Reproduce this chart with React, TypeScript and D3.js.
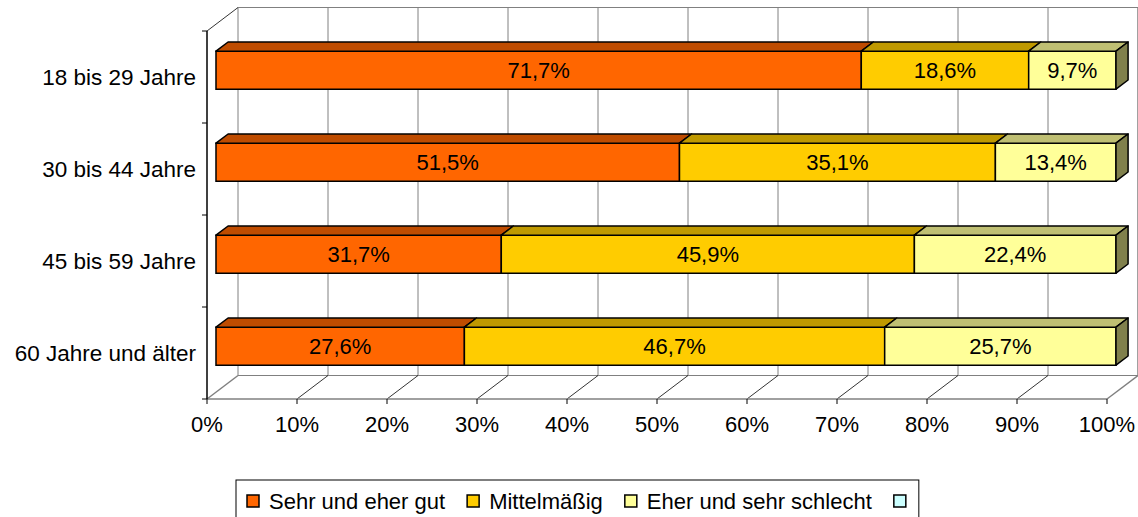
import React from 'react'
import { scaleLinear, scaleBand, range } from 'd3'

const categories = ['18 bis 29 Jahre', '30 bis 44 Jahre', '45 bis 59 Jahre', '60 Jahre und älter']
const seriesNames = ['Sehr und eher gut', 'Mittelmäßig', 'Eher und sehr schlecht', '']
const sehrGut = [71.7, 51.5, 31.7, 27.6]
const mittel = [18.6, 35.1, 45.9, 46.7]
const schlecht = [9.7, 13.4, 22.4, 25.7]
const xTicks = [0, 10, 20, 30, 40, 50, 60, 70, 80, 90, 100]

const frontColors = ['#FF6600', '#FFCC00', '#FFFF99', '#CCFFFF']
const topColors = ['#BF4C00', '#BF9900', '#BFBF73', '#99BFBF']
const sideColors = ['#803300', '#806600', '#80804C', '#668080']

const FONT = '"Liberation Sans", Arial, sans-serif'
const W = 1138
const H = 517
// depth of the 3d box
const DX = 31
const DY = 23.5
const D_FRONT = 0.29
const D_BACK = 0.68
const BAR_H = 38
const LEG_FS = 22

const measure = (t: string, size: number) => {
  const c = document.createElement('canvas').getContext('2d')
  if (!c) return t.length * size * 0.55
  c.font = `${size}px "Liberation Sans", Arial`
  return c.measureText(t).width
}

const App = () => {
  const x = scaleLinear().domain([0, 100]).range([207, 1107])
  const y = scaleBand().domain(categories).range([31, 399]).padding(0)
  const p = (v: number, yy: number, d: number) => [x(v) + d * DX, yy - d * DY]
  const poly = (pts: number[][]) => pts.map(q => q.join(',')).join(' ')

  const series = [sehrGut, mittel, schlecht]
  const floorY = 399
  const wallTop = 31 - DY

  const legendItems: { name: string; color: string; x: number }[] = []
  let lx = 247
  seriesNames.forEach((n, i) => {
    legendItems.push({ name: n, color: frontColors[i], x: lx })
    lx += 13 + (n ? 9 + measure(n, LEG_FS) + 22 : 12)
  })

  return (
    <svg width={W} height={H} style={{ position: 'absolute', left: 0, top: 0 }} fontFamily={FONT}>
      {/* back wall */}
      <line x1={x(0) + DX} x2={x(100) + DX} y1={wallTop} y2={wallTop} stroke="#808080" />
      <line x1={x(100) + DX} x2={x(100) + DX} y1={wallTop} y2={floorY - DY} stroke="#808080" />
      {xTicks.map(t => (
        <line key={'g' + t} x1={x(t) + DX} x2={x(t) + DX} y1={wallTop} y2={floorY - DY} stroke="#808080" />
      ))}
      {/* floor */}
      <line x1={x(0) + DX} x2={x(100) + DX} y1={floorY - DY} y2={floorY - DY} stroke="#808080" />
      {xTicks.map(t => (
        <line key={'f' + t} x1={x(t)} y1={floorY} x2={x(t) + DX} y2={floorY - DY}
          stroke={t === 0 || t === 100 ? '#808080' : '#000'} strokeWidth={t === 0 || t === 100 ? 1.5 : 0.8} />
      ))}
      <line x1={x(0)} x2={x(100)} y1={floorY} y2={floorY} stroke="#808080" strokeWidth={1.5} />
      {/* left wall */}
      <line x1={x(0)} y1={31} x2={x(0) + DX} y2={wallTop} stroke="#000" strokeWidth={0.8} />
      <line x1={x(0)} x2={x(0)} y1={31} y2={floorY} stroke="#000" strokeWidth={1.5} />
      {range(categories.length + 1).map(i => (
        <line key={'yt' + i} x1={x(0) - 5} x2={x(0)} y1={31 + i * y.step()} y2={31 + i * y.step()} stroke="#000" />
      ))}
      {xTicks.map(t => (
        <g key={'xt' + t}>
          <line x1={x(t)} x2={x(t)} y1={floorY} y2={floorY + 5} stroke="#000" />
          <text x={x(t)} y={floorY + 33} textAnchor="middle" fontSize={22}>{t}%</text>
        </g>
      ))}
      {categories.map(c => (
        <text key={c} x={196} y={(y(c) ?? 0) + y.bandwidth() / 2} dy="0.35em" textAnchor="end" fontSize={22.5}>{c}</text>
      ))}
      {/* bars */}
      {categories.map((c, ci) => {
        const y0 = (y(c) ?? 0) + (y.bandwidth() - BAR_H) / 2
        const y1 = y0 + BAR_H
        let acc = 0
        return (
          <g key={'b' + c}>
            {series.map((s, si) => {
              const s0 = acc
              const s1 = acc + s[ci]
              acc = s1
              const last = si === series.length - 1
              const fl = p(s0, y0, D_FRONT)
              const fr = p(s1, y1, D_FRONT)
              return (
                <g key={si}>
                  <polygon points={poly([p(s0, y0, D_FRONT), p(s1, y0, D_FRONT), p(s1, y1, D_FRONT), p(s0, y1, D_FRONT)])}
                    fill={frontColors[si]} stroke="#000" strokeWidth={1.5} />
                  <polygon points={poly([p(s0, y0, D_FRONT), p(s1, y0, D_FRONT), p(s1, y0, D_BACK), p(s0, y0, D_BACK)])}
                    fill={topColors[si]} stroke="#000" strokeWidth={1.5} strokeLinejoin="round" />
                  {last && (
                    <polygon points={poly([p(s1, y0, D_FRONT), p(s1, y0, D_BACK), p(s1, y1, D_BACK), p(s1, y1, D_FRONT)])}
                      fill={sideColors[si]} stroke="#000" strokeWidth={1.5} strokeLinejoin="round" />
                  )}
                  <text x={(fl[0] + fr[0]) / 2} y={(fl[1] + fr[1]) / 2} dy="0.35em" textAnchor="middle" fontSize={22}>
                    {s[ci].toFixed(1).replace('.', ',')}%
                  </text>
                </g>
              )
            })}
          </g>
        )
      })}
      {/* legend */}
      <rect x={236} y={480} width={lx - 236} height={45} fill="#fff" stroke="#000" />
      {legendItems.map(it => (
        <g key={'l' + it.x}>
          <rect x={it.x} y={495} width={12} height={12} fill={it.color} stroke="#000" strokeWidth={1.5} />
          {it.name && <text x={it.x + 22} y={501} dy="0.35em" fontSize={LEG_FS}>{it.name}</text>}
        </g>
      ))}
    </svg>
  )
}

export default App
